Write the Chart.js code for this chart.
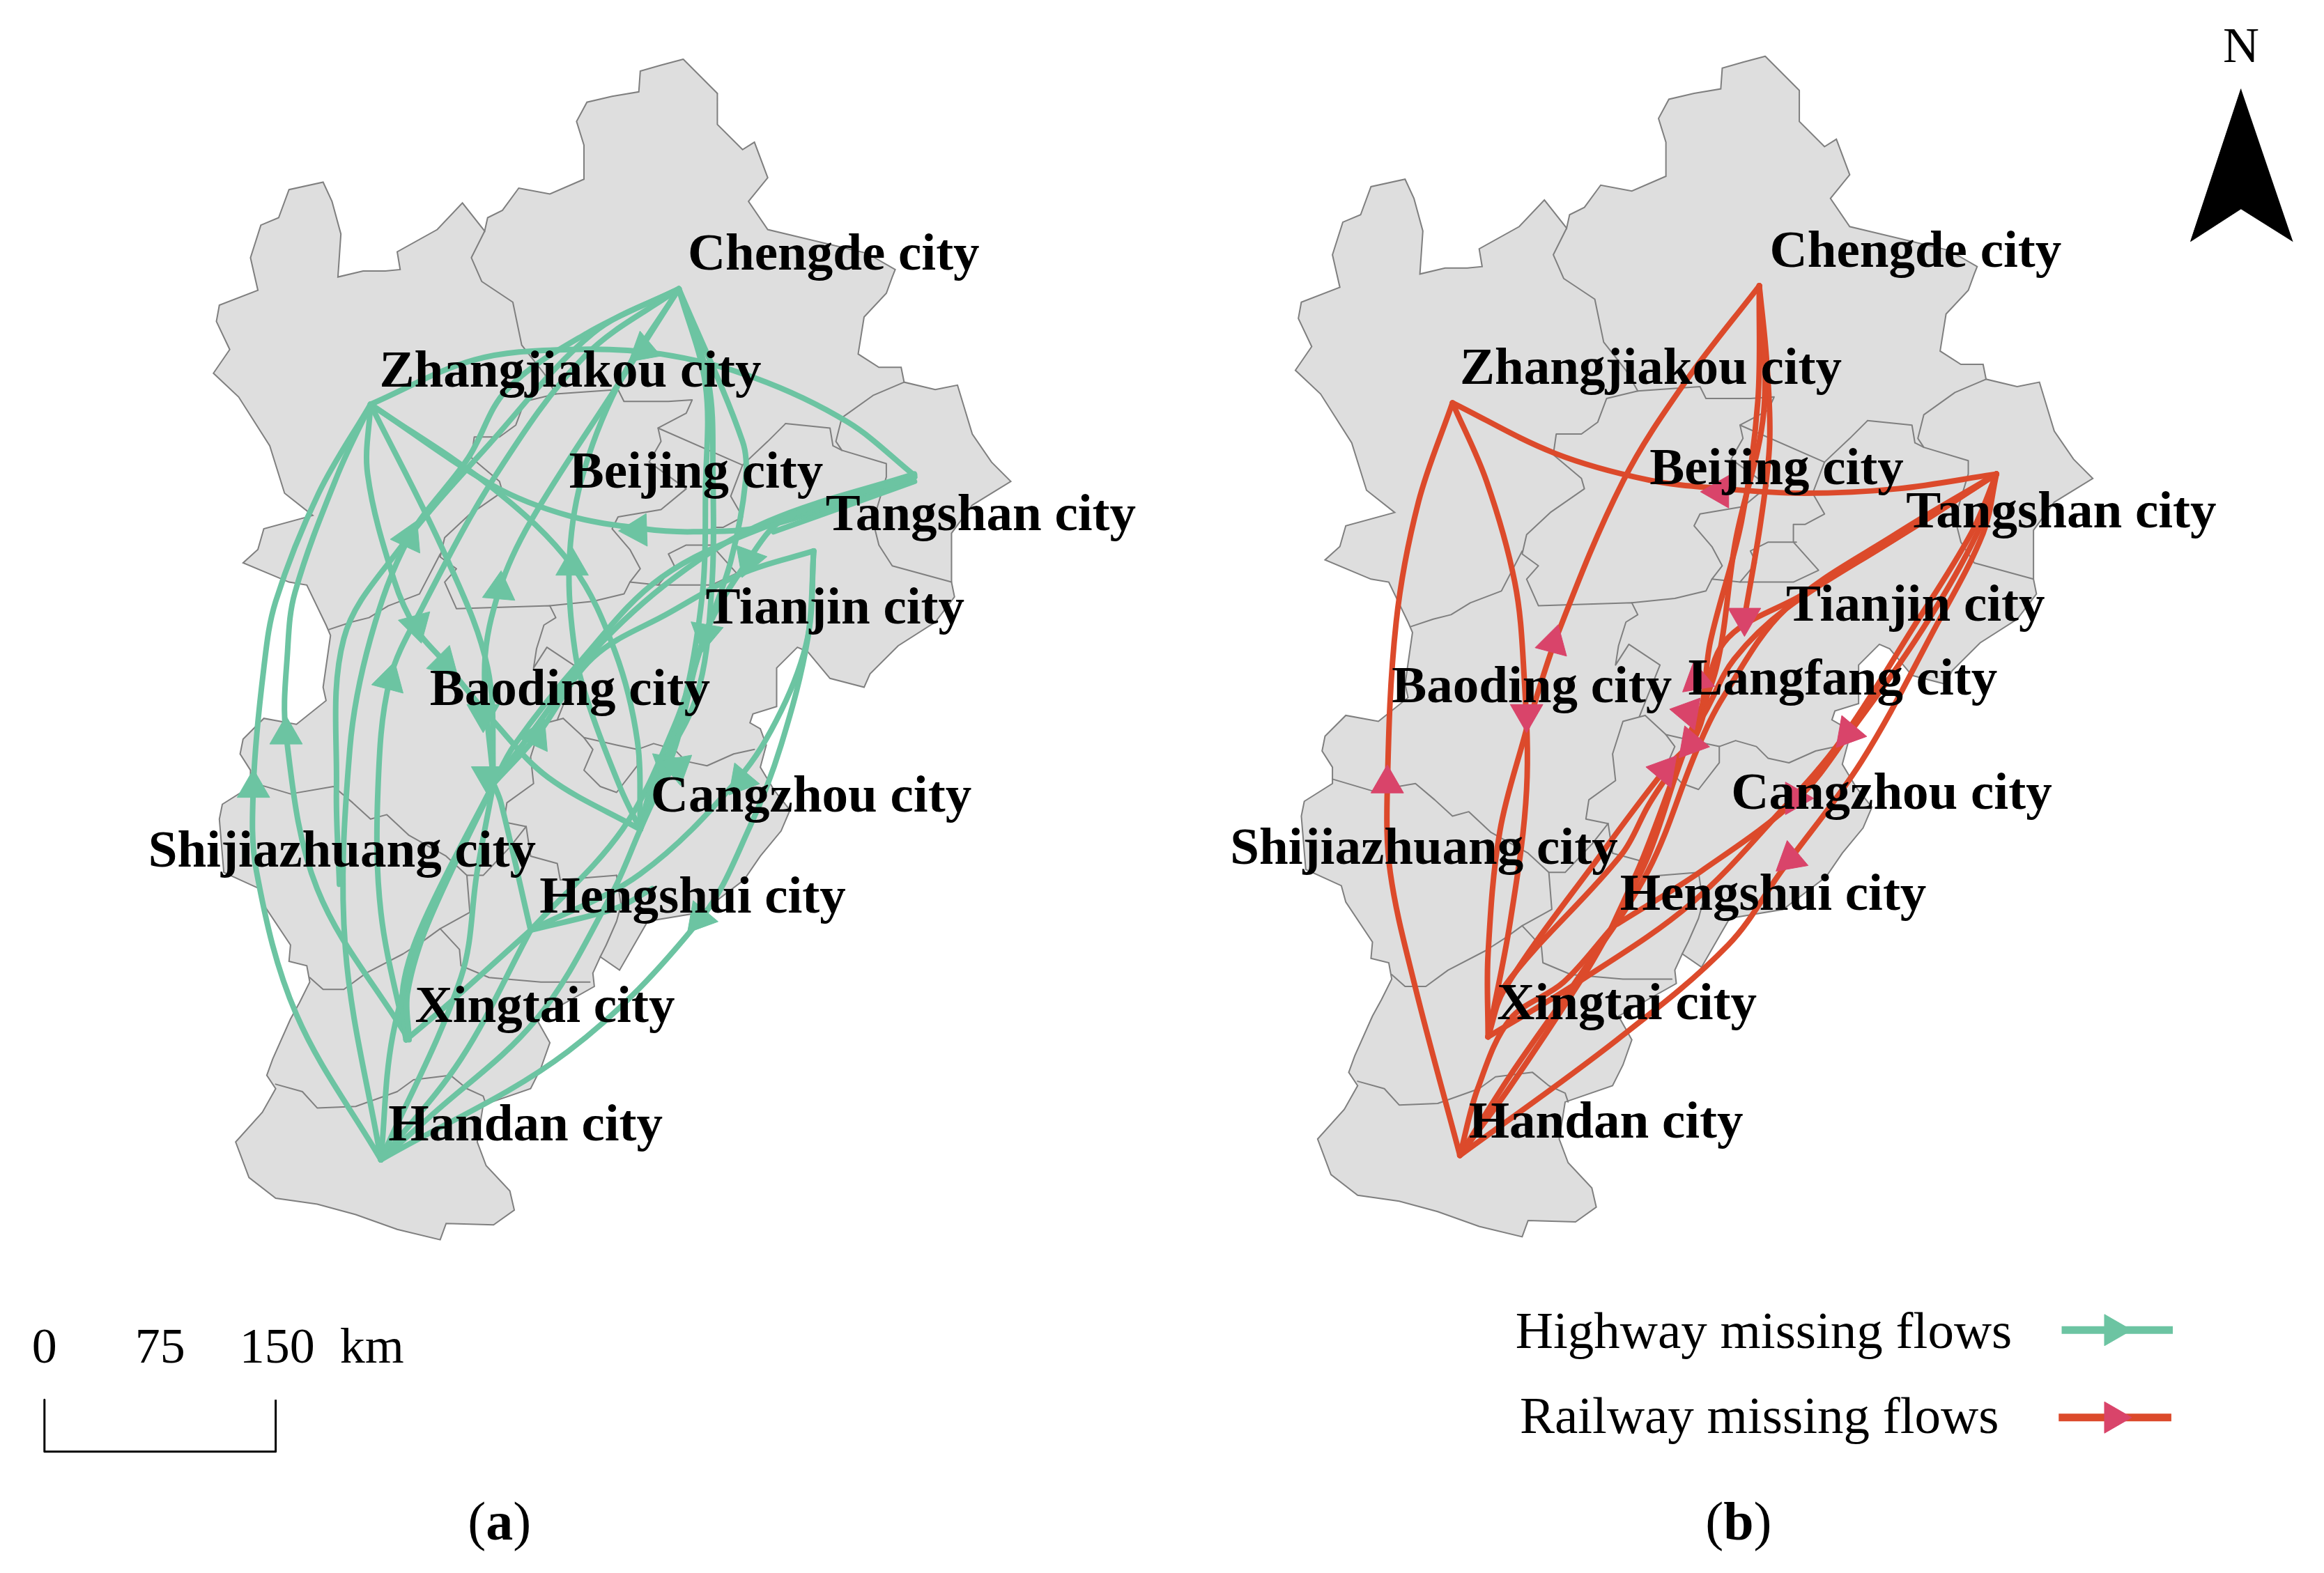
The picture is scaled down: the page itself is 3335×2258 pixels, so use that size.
<!DOCTYPE html>
<html>
<head>
<meta charset="utf-8">
<title>Missing flows</title>
<script src="https://cdn.jsdelivr.net/npm/chart.js@4/dist/chart.umd.min.js"></script>
<style>
  html, body { margin: 0; padding: 0; background: #fff; overflow: hidden; }
  canvas { display: block; }
</style>
</head>
<body>
<canvas id="flowMap" width="3335" height="2258"></canvas>
<script>
// map outline
const regionOutline = [
  [461,40],[446,44],[432,48],[431,62],[413,65],[396,69],[389,82],[394,98],[394,121],[371,131],[350,127],[339,142],[329,147],[327,156],
  [312,137],[295,155],[268,170],[270,182],[260,183],[245,183],[228,187],[230,158],[224,136],[218,123],[195,128],[188,147],[176,152],
  [169,174],[174,196],[148,206],[146,217],[155,236],[144,252],[161,268],[182,301],[192,333],[211,348],[178,357],[174,371],[164,380],
  [195,393],[207,395],[220,422],[223,429],[218,464],[220,473],[200,489],[178,485],[164,499],[162,509],[169,520],[169,531],[150,543],
  [148,553],[151,589],[175,600],[178,611],[196,638],[195,649],[207,652],[209,663],[202,677],[196,688],[184,715],[180,726],[186,735],
  [177,751],[159,771],[168,795],[186,809],[214,813],[240,820],[268,830],[297,837],[301,826],[333,827],[347,817],[344,804],[328,787],
  [322,771],[326,746],[358,735],[365,721],[371,704],[362,688],[401,666],[400,657],[405,646],[418,655],[437,622],[473,616],[502,594],
  [513,578],[527,561],[533,547],[522,533],[513,518],[517,503],[513,492],[506,488],[508,482],[524,477],[524,451],[538,437],[545,440],
  [560,458],[583,464],[587,455],[606,436],[631,420],[644,403],[642,393],[642,360],[656,341],[682,325],[669,312],[656,293],[646,260],
  [631,263],[610,258],[608,248],[593,248],[579,239],[583,214],[598,198],[602,187],[604,182],[585,171],[518,155],[505,136],[518,120],
  [509,96],[501,101],[484,84],[484,63]
];

const cityBorders = [
  [[327,156],[318,174],[325,190],[346,204],[352,233],[367,252],[375,266],[354,271],[348,287],[337,295],[320,295],[318,309],[337,325],[339,332],[316,348],[300,363],[297,376],[308,384],[300,393],[308,411],[371,409],[375,417],[367,422],[362,438],[360,451],[369,437],[390,451],[376,486]],
  [[297,374],[283,401],[262,409],[249,417],[237,420],[222,425]],
  [[375,266],[417,263],[421,271],[451,271],[467,270],[463,279],[444,289],[446,298],[438,312],[463,330],[446,344],[417,349],[413,357],[425,371],[432,384],[425,393],[444,395],[455,382],[451,374],[463,368],[482,368]],
  [[444,289],[501,314]],
  [[530,286],[518,298],[501,314],[493,335],[501,349],[488,356],[480,356],[480,368],[497,387],[480,395],[444,395]],
  [[530,286],[560,289],[562,301],[568,304],[598,313],[598,322],[589,352],[593,368],[602,382],[642,393]],
  [[610,258],[589,267],[568,282],[564,298],[568,304]],
  [[425,393],[421,401],[400,406],[371,409]],
  [[380,485],[365,489],[358,511],[360,529],[342,542],[340,555],[355,558],[358,578],[376,583],[378,594],[416,591]],
  [[380,485],[394,498],[416,503],[430,506],[441,502],[455,506],[463,514],[477,517],[495,509],[509,506]],
  [[430,506],[430,517],[416,535],[405,531],[394,520],[400,506],[394,498]],
  [[169,528],[196,536],[225,531],[238,542],[250,553],[261,550],[276,564],[301,578],[315,591],[326,591],[344,572],[355,558]],
  [[209,660],[218,668],[232,668],[247,657],[272,644],[286,635],[297,627],[310,641],[311,652],[330,660],[365,663],[398,663]],
  [[315,591],[317,616],[297,627]],
  [[416,591],[419,611],[416,622],[409,638],[405,646]],
  [[186,732],[204,737],[214,748],[240,747],[268,737],[279,729],[304,726],[315,735],[326,740],[328,746]]
];

// flows, panel (a) frame
const highwayFlows = [
  [[250,273],[320,243],[384,236],[446,239],[509,255],[572,285],[617,321]],
  [[250,273],[333,328],[383,348],[434,357],[468,359],[518,355],[617,322]],
  [[250,273],[333,330],[386,382],[415,440],[430,500],[432,560]],
  [[250,273],[248,320],[266,392],[281,425],[299,446],[333,487],[370,525],[432,560]],
  [[250,273],[301,376],[329,451],[333,529]],
  [[250,273],[215,333],[186,406],[178,451],[171,530],[173,588],[200,685],[257,783]],
  [[250,273],[228,320],[199,400],[194,440],[193,496],[214,600],[274,699]],
  [[458,195],[395,240],[335,320],[285,410],[263,459],[255,533],[257,616],[274,702]],
  [[458,195],[396,225],[342,263],[316,309],[276,363],[250,431],[236,506],[233,640],[257,783]],
  [[458,195],[400,225],[330,300],[270,370],[232,431],[227,533],[229,597]],
  [[458,195],[418,258],[358,352],[337,398],[327,449],[333,529]],
  [[458,195],[417,260],[392,325],[384,382],[388,440],[398,478],[419,533],[432,560]],
  [[458,195],[501,298],[503,325],[493,379],[476,428],[455,490],[420,560],[358,628]],
  [[458,195],[478,258],[481,320],[480,400],[470,470],[440,530],[432,560]],
  [[458,195],[476,260],[476,330],[474,400],[460,480],[432,560]],
  [[617,322],[518,355],[446,390],[392,446],[347,503],[333,529],[286,622],[272,666],[274,702]],
  [[617,320],[518,352],[455,390],[400,440],[362,490],[333,529]],
  [[617,325],[522,359]],
  [[333,529],[290,620],[275,670],[276,702]],
  [[549,372],[501,387],[451,414],[400,444],[362,497],[333,529]],
  [[617,322],[530,350],[505,378],[476,428],[455,506],[432,560]],
  [[549,372],[545,431],[527,503],[506,558],[473,620],[383,710],[257,783]],
  [[549,372],[545,430],[527,480],[498,526],[432,590],[358,628]],
  [[358,628],[338,542],[333,529]],
  [[358,628],[300,680],[274,702]],
  [[358,628],[416,613],[440,600]],
  [[257,783],[290,754],[362,688],[412,605],[432,560]],
  [[257,783],[311,715],[358,628]],
  [[257,783],[265,699],[286,630],[333,529]],
  [[257,783],[311,660],[322,588],[333,529]]
];

const railwayFlows = [
  [[250,274],[319,308],[382,326],[433,332],[487,335],[550,332],[617,322]],
  [[250,274],[227,341],[212,422],[206,535],[208,591],[224,665],[255,782]],
  [[250,274],[273,327],[292,395],[298,453],[300,535],[289,624],[274,702]],
  [[300,494],[282,563],[274,646],[274,702]],
  [[457,195],[407,260],[365,327],[321,430],[300,494]],
  [[457,195],[462,246],[464,300],[458,354],[447,419]],
  [[457,195],[456,273],[445,354],[424,435],[415,491],[382,546],[364,579],[285,668],[274,702]],
  [[457,195],[460,280],[441,367],[428,453],[409,500],[379,580],[357,629]],
  [[617,322],[563,357],[487,403],[433,436],[415,497],[393,522],[350,579],[285,670],[274,702]],
  [[617,322],[550,365],[475,413],[440,447],[422,480],[407,508],[382,580],[357,629]],
  [[617,322],[608,362],[575,427],[526,516],[472,590],[436,640],[361,704],[255,782]],
  [[617,322],[604,362],[567,427],[517,498],[483,541],[418,590],[361,626]],
  [[617,322],[600,362],[560,427],[512,502],[472,549],[411,612],[335,665],[274,702]],
  [[255,782],[288,737],[339,660],[357,629]],
  [[255,782],[289,728],[335,662],[382,590],[415,508],[433,472],[475,413],[550,362],[617,322]],
  [[255,782],[267,737],[289,690],[325,665],[357,629]]
];

// arrowheads: x, y, heading in degrees clockwise from north
const highwayArrows = [
  [276,363,25],[337,398,5],[386,382,0],[281,422,165],[300,448,135],[430,358,268],[434,236,350],[505,378,200],[476,428,190],
  [263,459,15],[193,496,0],[171,532,0],[326,482,180],[329,524,180],[362,497,25],[450,517,190],[457,518,170],[500,527,100],[472,620,100]
];
const railwayArrows = [
  [206,531,0],[300,484,180],[318,436,15],[447,419,180],[430,334,150],[415,461,110],[409,483,280],[411,504,100],[393,522,280],[517,497,100],[481,541,90],[478,582,110]
];

const northArrow = [[1512,60],[1478,163],[1512,141],[1547,163]];
const scaleBar = [[30,945],[30,980],[186,980],[186,945]];
const highwayKeyLine = [[1391,898],[1466,898]];
const railwayKeyLine = [[1389,957],[1465,957]];
const highwayKeyArrow = [[1426,898,90]];
const railwayKeyArrow = [[1426,957,90]];

const cityLabelsA = [
  ["Chengde city",464,173],["Zhangjiakou city",256,252],["Beijing city",384,320],["Tangshan city",557,349],["Tianjin city",476,412],
  ["Baoding city",290,467],["Cangzhou city",439,539],["Shijiazhuang city",100,576],["Hengshui city",364,607],["Xingtai city",280,681],["Handan city",262,761]
];
const cityLabelsB = [
  ["Chengde city",1194,171],["Zhangjiakou city",985,250],["Beijing city",1113,318],["Tangshan city",1286,347],["Tianjin city",1205,410],
  ["Baoding city",939,465],["Langfang city",1139,460],["Cangzhou city",1168,537],["Shijiazhuang city",830,574],["Hengshui city",1093,605],["Xingtai city",1010,679],["Handan city",991,759]
];
const scaleLabels = [["0",30,911],["75",108,911],["150",187,911],["km",251,911]];
const keyLabels = [["Highway missing flows",1190,901],["Railway missing flows",1187,958]];
const northLabel = [["N",1512,33]];
const panelLabels = [["a",337,1030],["b",1173,1030]];

const GREEN = "#6cc4a2";
const RED = "#dc4a2b";
const ROSE = "#d9446a";
const SERIF = '"Liberation Serif", "DejaVu Serif", serif';

const xy = (pts) => pts.map(([x, y]) => ({ x, y }));

function polyline(pts, color, width, axes, tension, cap) {
  return {
    data: xy(pts), showLine: true, fill: false, borderColor: color, borderWidth: width,
    tension: tension || 0, pointRadius: 0, borderCapStyle: cap || "round", borderJoinStyle: "round",
    xAxisID: axes[0], yAxisID: axes[1]
  };
}

function arrowHeads(list, color, size, axes) {
  return {
    data: xy(list), showLine: false, pointStyle: "triangle", pointRadius: size,
    pointRotation: list.map((a) => a[2]), pointBackgroundColor: color, pointBorderColor: color, pointBorderWidth: 1,
    xAxisID: axes[0], yAxisID: axes[1]
  };
}

function mapLayers(axes) {
  const layers = [{
    data: xy(regionOutline), showLine: true, fill: "shape", backgroundColor: "#dedede", borderColor: "#7f7f7f", borderWidth: 2,
    pointRadius: 0, tension: 0, xAxisID: axes[0], yAxisID: axes[1]
  }];
  // close the ring, fill:shape does not stroke the last edge
  layers.push(polyline([regionOutline[regionOutline.length - 1], regionOutline[0]], "#7f7f7f", 2, axes));
  cityBorders.forEach((b) => layers.push(polyline(b, "#7f7f7f", 2, axes)));
  return layers;
}

const A = ["xa", "ya"];
const B = ["xb", "yb"];
const datasets = [
  ...mapLayers(A),
  ...mapLayers(B),
  ...highwayFlows.map((f) => polyline(f, GREEN, 8, A, 0.35)),
  ...railwayFlows.map((f) => polyline(f, RED, 8, B, 0.35)),
  arrowHeads(highwayArrows, GREEN, 27, A),
  arrowHeads(railwayArrows, ROSE, 27, B),
  { data: xy(northArrow), showLine: true, fill: "shape", backgroundColor: "#000", borderColor: "#000", borderWidth: 1, pointRadius: 0, xAxisID: "xa", yAxisID: "ya" },
  polyline(scaleBar, "#000", 3, A, 0, "butt"),
  polyline(highwayKeyLine, GREEN, 11, A, 0, "butt"),
  polyline(railwayKeyLine, RED, 11, A, 0, "butt"),
  arrowHeads(highwayKeyArrow, GREEN, 26, A),
  arrowHeads(railwayKeyArrow, ROSE, 26, A)
];
// chart.js paints the first dataset last, so the map has to go to the back
datasets.reverse();

// text on top of the flows
const textLayer = {
  id: "textLayer",
  afterDatasetsDraw(chart) {
    const { ctx, scales } = chart;
    const X = (v) => scales.xa.getPixelForValue(v);
    const Y = (v) => scales.ya.getPixelForValue(v);
    const put = ([t, x, y]) => ctx.fillText(t, X(x), Y(y));
    ctx.save();
    ctx.fillStyle = "#000";
    ctx.textBaseline = "middle";
    ctx.font = "bold 75px " + SERIF;
    ctx.textAlign = "left";
    cityLabelsA.concat(cityLabelsB).forEach(put);
    ctx.textAlign = "center";
    ctx.font = "72px " + SERIF;
    scaleLabels.concat(northLabel).forEach(put);
    ctx.font = "75px " + SERIF;
    keyLabels.forEach(put);
    panelLabels.forEach(([t, x, y]) => {
      ctx.font = "bold 78px " + SERIF;
      const w = ctx.measureText(t).width;
      ctx.fillText(t, X(x), Y(y));
      ctx.font = "78px " + SERIF;
      ctx.textAlign = "right";
      ctx.fillText("(", X(x) - w / 2, Y(y));
      ctx.textAlign = "left";
      ctx.fillText(")", X(x) + w / 2, Y(y));
      ctx.textAlign = "center";
    });
    ctx.restore();
  }
};

new Chart(document.getElementById("flowMap"), {
  type: "scatter",
  data: { datasets },
  options: {
    responsive: false,
    animation: false,
    devicePixelRatio: 1,
    layout: { padding: 0, autoPadding: false },
    plugins: { legend: { display: false }, tooltip: { enabled: false } },
    scales: {
      xa: { type: "linear", axis: "x", display: false, min: 0, max: 1568 },
      ya: { type: "linear", axis: "y", display: false, min: 0, max: 1062, reverse: true },
      // panel (b) is the same map, shifted
      xb: { type: "linear", axis: "x", display: false, min: -730, max: 838 },
      yb: { type: "linear", axis: "y", display: false, min: 2, max: 1064, reverse: true }
    }
  },
  plugins: [textLayer]
});
</script>
</body>
</html>
